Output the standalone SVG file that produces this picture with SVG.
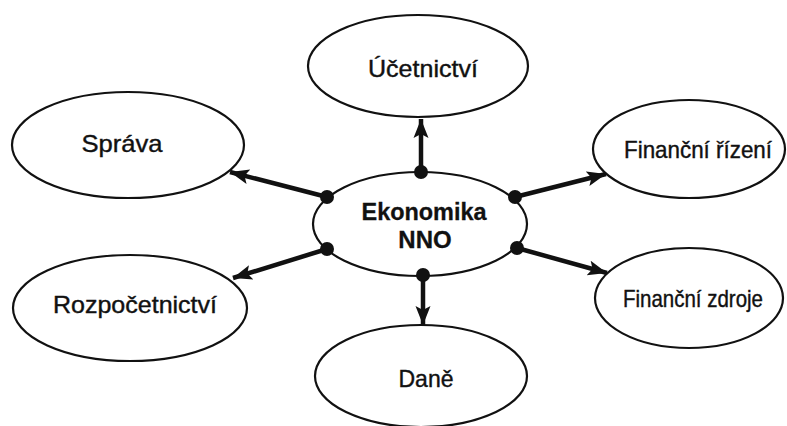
<svg xmlns="http://www.w3.org/2000/svg" width="787" height="426" viewBox="0 0 787 426">
<style>
.n{fill:#fff;stroke:#111;stroke-width:2.2}
.t{font-family:"Liberation Sans",Arial,sans-serif;font-size:24px;fill:#111;stroke:#111;stroke-width:0.4;text-anchor:middle}
.b{font-weight:bold;stroke-width:0.3}
.c{stroke:#111;stroke-width:4.5;fill:none;marker-end:url(#ah)}
.d{fill:#111}
</style>
<defs>
<marker id="ah" markerUnits="userSpaceOnUse" markerWidth="20" markerHeight="18" viewBox="0 0 20 18" refX="19" refY="9" orient="auto">
<path d="M0,1.5 L19,9 L0,16.5 L4,9 Z" fill="#111"/>
</marker>
</defs>
<rect width="787" height="426" fill="#fff"/>
<g id="connectors">
<line class="c" x1="421" y1="172" x2="421" y2="119"/>
<line class="c" x1="327" y1="197" x2="230" y2="172"/>
<line class="c" x1="327" y1="249" x2="233" y2="278"/>
<line class="c" x1="515" y1="197" x2="606" y2="174"/>
<line class="c" x1="517" y1="248" x2="607" y2="273"/>
<line class="c" x1="423" y1="275" x2="423" y2="325"/>
</g>
<g id="ucetnictvi">
<ellipse class="n" cx="418" cy="66" rx="110" ry="51"/>
<text class="t" x="423" y="77" textLength="110" lengthAdjust="spacingAndGlyphs">Účetnictví</text>
</g>
<g id="sprava">
<ellipse class="n" cx="128" cy="145" rx="116" ry="53"/>
<text class="t" x="122" y="152" textLength="81" lengthAdjust="spacingAndGlyphs">Správa</text>
</g>
<g id="rozpocetnictvi">
<ellipse class="n" cx="130" cy="308" rx="117" ry="53"/>
<text class="t" x="135" y="313" textLength="164" lengthAdjust="spacingAndGlyphs">Rozpočetnictví</text>
</g>
<g id="financni-rizeni">
<ellipse class="n" cx="689" cy="149" rx="96" ry="49"/>
<text class="t" x="698" y="158" textLength="148" lengthAdjust="spacingAndGlyphs">Finanční řízení</text>
</g>
<g id="financni-zdroje">
<ellipse class="n" cx="689" cy="298" rx="94" ry="50"/>
<text class="t" x="693" y="307" font-size="22" textLength="140" lengthAdjust="spacingAndGlyphs">Finanční zdroje</text>
</g>
<g id="dane">
<ellipse class="n" cx="421" cy="376" rx="106" ry="51"/>
<text class="t" x="426" y="387" textLength="55" lengthAdjust="spacingAndGlyphs">Daně</text>
</g>
<g id="ekonomika-nno">
<ellipse class="n" cx="420" cy="224" rx="107" ry="52"/>
<text class="t b" x="424" y="220" textLength="125" lengthAdjust="spacingAndGlyphs">Ekonomika</text>
<text class="t b" x="425" y="248">NNO</text>
<circle class="d" cx="421" cy="172" r="7"/>
<circle class="d" cx="327" cy="197" r="7"/>
<circle class="d" cx="327" cy="249" r="7"/>
<circle class="d" cx="515" cy="197" r="7"/>
<circle class="d" cx="517" cy="248" r="7"/>
<circle class="d" cx="423" cy="275" r="7"/>
</g>
</svg>
